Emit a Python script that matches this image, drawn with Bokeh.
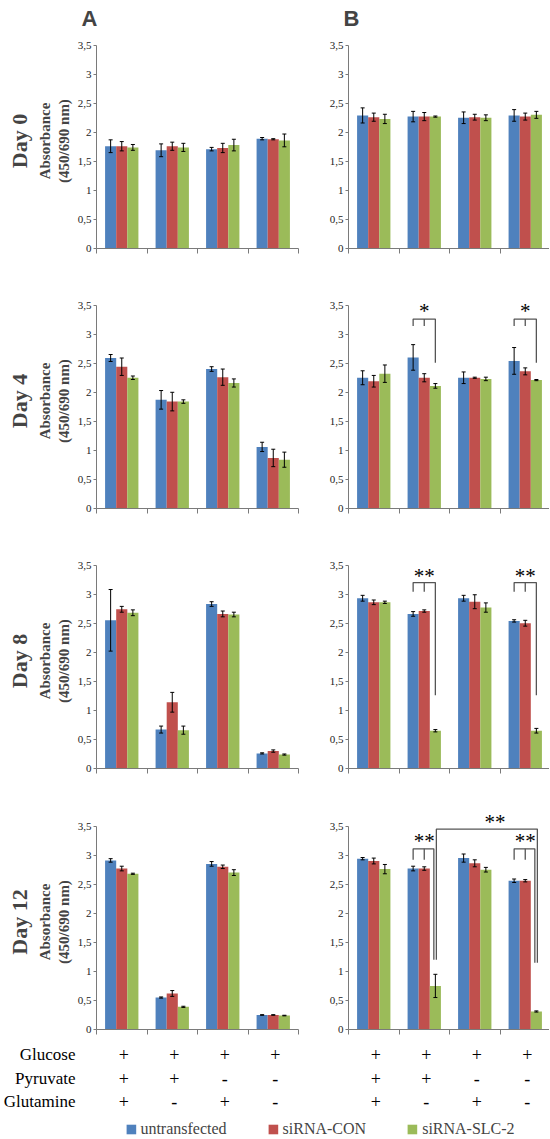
from bokeh.plotting import figure
from bokeh.layouts import column, row
from bokeh.models import (Range1d, FactorRange, FixedTicker, CustomJSTickFormatter,
                          ColumnDataSource, Whisker, TeeHead, Title, Legend, LegendItem)
from bokeh.embed import file_html
from bokeh.resources import INLINE
from bokeh.core.properties import value

# ---------------- data ----------------
days = ["Day 0", "Day 4", "Day 8", "Day 12"]
series = ["untransfected", "siRNA-CON", "siRNA-SLC-2"]
colors = ["#4F81BD", "#C0504D", "#9BBB59"]
y_ticks = [0, 0.5, 1, 1.5, 2, 2.5, 3, 3.5]

table_rows = ["Glucose", "Pyruvate", "Glutamine"]
glucose = ["+", "+", "+", "+"]
pyruvate = ["+", "+", "-", "-"]
glutamine = ["+", "-", "+", "-"]

# Panel A (per day: 4 medium conditions)
a_unt = [[1.76, 1.69, 1.71, 1.89], [2.59, 1.87, 2.40, 1.06], [2.55, 0.67, 2.83, 0.26], [2.91, 0.55, 2.85, 0.25]]
a_unt_err = [[0.11, 0.11, 0.03, 0.02], [0.06, 0.16, 0.04, 0.08], [0.53, 0.06, 0.04, 0.01], [0.03, 0.01, 0.04, 0.005]]
a_con = [[1.76, 1.76, 1.73, 1.88], [2.44, 1.84, 2.26, 0.87], [2.74, 1.14, 2.66, 0.30], [2.77, 0.62, 2.80, 0.25]]
a_con_err = [[0.08, 0.07, 0.08, 0.01], [0.15, 0.16, 0.14, 0.15], [0.05, 0.17, 0.05, 0.02], [0.04, 0.05, 0.03, 0.005]]
a_slc = [[1.74, 1.74, 1.78, 1.86], [2.25, 1.84, 2.16, 0.84], [2.68, 0.66, 2.65, 0.24], [2.68, 0.39, 2.70, 0.24]]
a_slc_err = [[0.05, 0.07, 0.10, 0.11], [0.03, 0.03, 0.07, 0.13], [0.05, 0.07, 0.04, 0.01], [0.01, 0.01, 0.05, 0.005]]

# Panel B
b_unt = [[2.29, 2.27, 2.25, 2.29], [2.25, 2.60, 2.25, 2.54], [2.93, 2.66, 2.93, 2.54], [2.94, 2.77, 2.95, 2.56]]
b_unt_err = [[0.13, 0.09, 0.10, 0.10], [0.12, 0.22, 0.10, 0.23], [0.05, 0.04, 0.05, 0.02], [0.02, 0.04, 0.07, 0.03]]
b_con = [[2.26, 2.27, 2.26, 2.27], [2.19, 2.25, 2.25, 2.36], [2.86, 2.71, 2.87, 2.50], [2.90, 2.77, 2.86, 2.56]]
b_con_err = [[0.07, 0.07, 0.05, 0.06], [0.10, 0.07, 0.01, 0.06], [0.04, 0.02, 0.12, 0.05], [0.05, 0.03, 0.06, 0.02]]
b_slc = [[2.23, 2.27, 2.25, 2.30], [2.32, 2.11, 2.23, 2.21], [2.86, 0.65, 2.77, 0.65], [2.76, 0.75, 2.75, 0.31]]
b_slc_err = [[0.08, 0.01, 0.05, 0.06], [0.15, 0.04, 0.03, 0.01], [0.02, 0.02, 0.08, 0.04], [0.08, 0.20, 0.04, 0.01]]

# significance brackets in panel B (days 4, 8, 12; conditions 2 and 4)
sig_days = [1, 2, 3]
sig_groups = [1, 3]
sig_text = ["*", "**", "**"]
sig_text_y = [3.40, 3.32, 3.24]
sig_top = [3.26, 3.20, 3.11]
sig_leg_bottom = [3.14, 3.04, 2.92]
sig_right_bottom = [[2.51, 2.51], [1.26, 1.26], [1.20, 1.15]]
big_text = "**"
big_text_x = 2.9
big_text_y = 3.59
big_top = 3.45
big_bottom = [1.20, 1.15]

# ---------------- layout constants ----------------
BAR_W = 0.22
CAT_PX = 50.5
FW_A = 202
FW_B = 201
FRAME_H = 215
Y_MAX = 3.7
tops = [33, 24, 24, 24]
bottoms = [21, 21, 22, 8]
SERIF = "Liberation Serif"
AXIS_COL = "#7a7a7a"
BRACKET_COL = "#555555"

x_range_a = Range1d(0, FW_A / CAT_PX)
x_range_b = Range1d(0, FW_B / CAT_PX)


def make_panel(d, side):
    is_a = side == "A"
    p = figure(frame_width=FW_A if is_a else FW_B, frame_height=FRAME_H,
               x_range=x_range_a if is_a else x_range_b, y_range=Range1d(0, Y_MAX),
               output_backend="svg", toolbar_location=None,
               min_border_left=96 if is_a else 40, min_border_right=10 if is_a else 0,
               min_border_top=tops[d], min_border_bottom=bottoms[d])
    p.outline_line_color = None
    p.grid.visible = False

    xa = p.xaxis[0]
    xa.ticker = FixedTicker(ticks=[0, 1, 2, 3, 4] if is_a else [0, 1, 2, 3])
    xa.major_tick_out = 5
    xa.major_tick_in = 0
    xa.minor_tick_out = 0
    xa.minor_tick_in = 0
    xa.major_label_text_font_size = "0px"
    xa.major_label_standoff = 0
    xa.axis_line_color = AXIS_COL
    xa.major_tick_line_color = AXIS_COL

    ya = p.yaxis[0]
    ya.ticker = FixedTicker(ticks=y_ticks)
    ya.bounds = (0, 3.5)
    ya.formatter = CustomJSTickFormatter(code="return String(tick).replace('.', ',');")
    ya.major_tick_out = 3
    ya.major_tick_in = 0
    ya.minor_tick_out = 0
    ya.minor_tick_in = 0
    ya.major_label_standoff = 2
    ya.major_label_text_font = SERIF
    ya.major_label_text_font_size = "11px"
    ya.major_label_text_color = "#222222"
    ya.axis_line_color = AXIS_COL
    ya.major_tick_line_color = AXIS_COL

    if d == 0:
        p.title.text = side
        p.title.text_font = "Liberation Sans"
        p.title.text_font_style = "bold"
        p.title.text_font_size = "22px"
        p.title.align = "left"
        p.title.offset = -15 if is_a else -5
        p.title.standoff = 6

    if is_a:
        ya.axis_label = "Absorbance\n(450/690 nm)"
        ya.axis_label_text_font = SERIF
        ya.axis_label_text_font_style = "bold"
        ya.axis_label_text_font_size = "15px"
        ya.axis_label_standoff = 3
        p.add_layout(Title(text=days[d], align="center", text_font=SERIF,
                           text_font_style="bold", text_font_size="22px",
                           standoff=4), "left")

    if is_a:
        groups = [(a_unt, a_unt_err), (a_con, a_con_err), (a_slc, a_slc_err)]
    else:
        groups = [(b_unt, b_unt_err), (b_con, b_con_err), (b_slc, b_slc_err)]

    for k, (means, errs) in enumerate(groups):
        m = means[d]
        e = errs[d]
        xs = [i + 0.5 + (k - 1) * BAR_W for i in range(4)]
        src = ColumnDataSource(dict(x=xs, top=m,
                                    lower=[mm - ee for mm, ee in zip(m, e)],
                                    upper=[mm + ee for mm, ee in zip(m, e)]))
        p.vbar(x="x", top="top", bottom=0, width=BAR_W, source=src,
               fill_color=colors[k], line_color=None)
        w = Whisker(base="x", upper="upper", lower="lower", source=src,
                    line_color="black", line_width=1, level="overlay",
                    upper_head=TeeHead(size=4, line_color="black", line_width=1),
                    lower_head=TeeHead(size=4, line_color="black", line_width=1))
        p.add_layout(w)

    # significance brackets
    if not is_a and d in sig_days:
        j = sig_days.index(d)
        xs_l, ys_l = [], []
        for gi, g in enumerate(sig_groups):
            xb = g + 0.5 - BAR_W
            xr = g + 0.5
            xg = g + 0.5 + BAR_W - (0.03 if d == 3 else 0)
            xs_l.append([xb, xb, xg, xg])
            ys_l.append([sig_leg_bottom[j], sig_top[j], sig_top[j], sig_right_bottom[j][gi]])
            xs_l.append([xr, xr])
            ys_l.append([sig_top[j], sig_leg_bottom[j]])
        p.multi_line(xs=xs_l, ys=ys_l, line_color=BRACKET_COL, line_width=1.3)
        p.text(x=[g + 0.5 for g in sig_groups], y=[sig_text_y[j]] * 2,
               text=[sig_text[j]] * 2, text_font=value(SERIF),
               text_font_size=value("21px"), text_align="center",
               text_baseline="middle", text_color="black")
        if d == 3:
            xl = sig_groups[0] + 0.5 + BAR_W + 0.02
            xr2 = sig_groups[1] + 0.5 + BAR_W + 0.02
            p.multi_line(xs=[[xl, xl, xr2, xr2]],
                         ys=[[big_bottom[0], big_top, big_top, big_bottom[1]]],
                         line_color=BRACKET_COL, line_width=1.3)
            p.text(x=[big_text_x], y=[big_text_y - 0.02], text=[big_text],
                   text_font=value(SERIF), text_font_size=value("21px"),
                   text_align="center", text_baseline="middle", text_color="black")
    return p


def make_table(side):
    is_a = side == "A"
    p = figure(frame_width=FW_A if is_a else FW_B, frame_height=71,
               x_range=x_range_a if is_a else x_range_b,
               y_range=FactorRange(factors=table_rows[::-1]),
               x_axis_type=None, y_axis_type="auto" if is_a else None,
               output_backend="svg", toolbar_location=None,
               min_border_left=96 if is_a else 40, min_border_right=10 if is_a else 0,
               min_border_top=5, min_border_bottom=0)
    p.outline_line_color = None
    p.grid.visible = False
    if is_a:
        ya = p.yaxis[0]
        ya.axis_line_color = None
        ya.major_tick_line_color = None
        ya.minor_tick_line_color = None
        ya.major_tick_out = 0
        ya.major_tick_in = 0
        ya.major_label_standoff = 23
        ya.major_label_text_font = SERIF
        ya.major_label_text_font_size = "17px"
        ya.major_label_text_color = "black"
    xs, ys, ts = [], [], []
    for name, signs in zip(table_rows, [glucose, pyruvate, glutamine]):
        for i, s in enumerate(signs):
            xs.append(i + 0.5)
            ys.append(name)
            ts.append(s)
    p.text(x=xs, y=ys, text=ts, text_font=value(SERIF), text_font_size=value("18px"),
           text_align="center", text_baseline="middle", text_color="black")
    return p


rows = []
for d in range(4):
    rows.append(row(make_panel(d, "A"), make_panel(d, "B")))
rows.append(row(make_table("A"), make_table("B")))

# legend strip
leg = figure(width=FW_A + FW_B + 96 + 10 + 40, height=25, x_range=Range1d(0, 1),
             y_range=Range1d(0, 1), x_axis_type=None, y_axis_type=None,
             output_backend="svg", toolbar_location=None, min_border_left=90,
             min_border_right=0, min_border_top=7, min_border_bottom=0)
leg.outline_line_color = None
leg.grid.visible = False
leg.border_fill_color = "white"
leg.background_fill_color = "white"
items = []
for k, name in enumerate(series):
    # zero-size placeholder renderers, used only for the legend swatches
    r = leg.vbar(x=[0.5], top=[0], bottom=[0], width=0, fill_color=colors[k], line_color=None)
    items.append(LegendItem(label=name, renderers=[r]))
legend = Legend(items=items, orientation="horizontal", location="center",
                label_text_font=SERIF, label_text_font_size="16px",
                glyph_width=12, glyph_height=12, label_standoff=4, spacing=40,
                padding=0, margin=0, border_line_color=None,
                background_fill_alpha=0, label_height=16)
leg.add_layout(legend)

layout = column(*rows, leg)
open("out.html", "w").write(file_html(layout, INLINE))
